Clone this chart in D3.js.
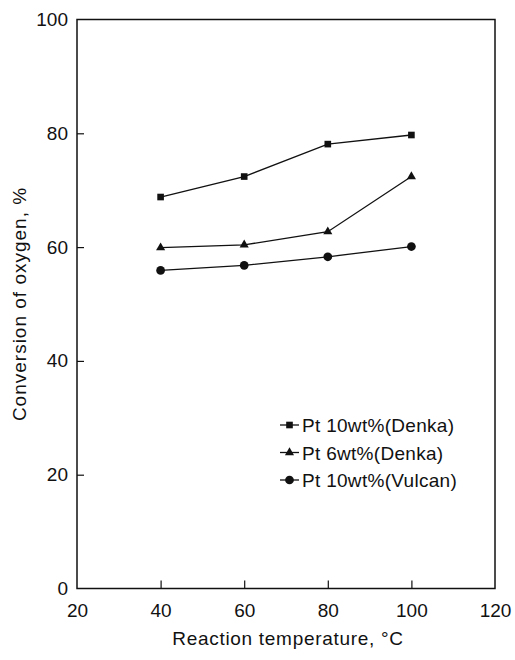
<!DOCTYPE html>
<html>
<head>
<meta charset="utf-8">
<script src="https://cdn.jsdelivr.net/npm/d3@7"></script>
<style>
  html, body { margin: 0; padding: 0; background: #fff; }
  svg { display: block; }
  text { font-family: "Liberation Sans", Arial, Helvetica, sans-serif; fill: #111; }
</style>
</head>
<body>
<svg id="chart" width="515" height="660"></svg>
<script>
// Reaction temperature (°C)
const temperatures = [40, 60, 80, 100];

// Oxygen conversion (%) per catalyst
const seriesNames = ["Pt 10wt%(Denka)", "Pt 6wt%(Denka)", "Pt 10wt%(Vulcan)"];
const pt10Denka  = [68.8, 72.4, 78.1, 79.7];
const pt6Denka   = [59.9, 60.4, 62.7, 72.4];
const pt10Vulcan = [55.9, 56.8, 58.3, 60.1];

const xTicks = [20, 40, 60, 80, 100, 120];
const yTicks = [0, 20, 40, 60, 80, 100];

const xTitle = "Reaction temperature, °C";
const yTitle = "Conversion of oxygen, %";

const series = [
  { name: seriesNames[0], values: pt10Denka,  symbol: d3.symbolSquare,   size: 44 },
  { name: seriesNames[1], values: pt6Denka,   symbol: d3.symbolTriangle, size: 36 },
  { name: seriesNames[2], values: pt10Vulcan, symbol: d3.symbolCircle,   size: 60 }
];

const svg = d3.select("#chart");
const plotLeft = 77, plotRight = 495, plotTop = 19.5, plotBottom = 588.5;

const x = d3.scaleLinear().domain([20, 120]).range([plotLeft, plotRight]);
const y = d3.scaleLinear().domain([0, 100]).range([plotBottom, plotTop]);

// Axes with inward ticks
const yAxis = svg.append("g")
  .attr("transform", `translate(${plotLeft},0)`)
  .call(d3.axisLeft(y).tickValues(yTicks).tickSize(-7).tickPadding(9).tickFormat(d3.format("d")));
const xAxis = svg.append("g")
  .attr("transform", `translate(0,${plotBottom})`)
  .call(d3.axisBottom(x).tickValues(xTicks).tickSize(-8).tickPadding(15).tickFormat(d3.format("d")));

[xAxis, yAxis].forEach(g => {
  g.select(".domain").remove();
  g.selectAll(".tick line").attr("stroke", "#111").attr("stroke-width", 1.2);
  g.selectAll(".tick text").attr("font-size", 19).attr("fill", "#111")
    .style("font-family", '"Liberation Sans", Arial, sans-serif');
});
// drop inner ticks at the frame corners
xAxis.selectAll(".tick").filter(d => d === 20 || d === 120).select("line").remove();
yAxis.selectAll(".tick").filter(d => d === 0 || d === 100).select("line").remove();

// Frame
svg.append("rect")
  .attr("x", plotLeft).attr("y", plotTop)
  .attr("width", plotRight - plotLeft).attr("height", plotBottom - plotTop)
  .attr("fill", "none").attr("stroke", "#111").attr("stroke-width", 1.5);

// Series lines and markers
const line = d3.line()
  .x((d, i) => x(temperatures[i]))
  .y(d => y(d));

series.forEach(s => {
  svg.append("path")
    .datum(s.values)
    .attr("d", line)
    .attr("fill", "none")
    .attr("stroke", "#111")
    .attr("stroke-width", 1.3);
  svg.append("g").selectAll("path")
    .data(s.values)
    .join("path")
    .attr("transform", (d, i) => `translate(${x(temperatures[i])},${y(d)})`)
    .attr("d", d3.symbol().type(s.symbol).size(s.size))
    .attr("fill", "#111");
});

// Legend
const legend = svg.append("g").attr("transform", "translate(280,425)");
series.forEach((s, i) => {
  const row = legend.append("g").attr("transform", `translate(0,${i * 27.5})`);
  row.append("line").attr("x1", 0).attr("x2", 19).attr("y1", 0).attr("y2", 0)
    .attr("stroke", "#111").attr("stroke-width", 1.3);
  row.append("path").attr("transform", "translate(9.5,0)")
    .attr("d", d3.symbol().type(s.symbol).size(s.size)).attr("fill", "#111");
  row.append("text").attr("x", 22).attr("y", 7)
    .attr("font-size", 19).attr("letter-spacing", 0.3).text(s.name);
});

// Axis titles
svg.append("text")
  .attr("x", (plotLeft + plotRight) / 2 + 2).attr("y", 645)
  .attr("text-anchor", "middle").attr("font-size", 19)
  .attr("letter-spacing", 0.7)
  .text(xTitle);

svg.append("text")
  .attr("transform", `translate(26,${(plotTop + plotBottom) / 2}) rotate(-90)`)
  .attr("text-anchor", "middle").attr("font-size", 19)
  .attr("letter-spacing", 1)
  .text(yTitle);
</script>
</body>
</html>
